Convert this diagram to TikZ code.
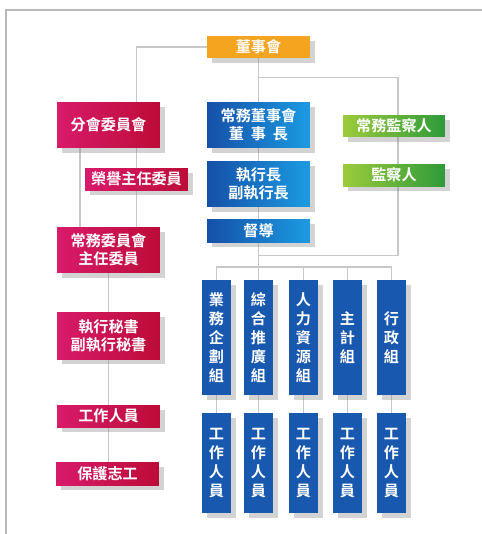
\documentclass[tikz,border=0pt]{standalone}
\usepackage{fontspec}
\newfontfamily\cjk{Noto Sans CJK TC}[BoldFont={Noto Sans CJK TC Bold}]
\usetikzlibrary{calc,shadows,backgrounds}
\definecolor{boardorange}{HTML}{F5A41F}
\definecolor{redleft}{HTML}{D81A6A}
\definecolor{redright}{HTML}{BC0C38}
\definecolor{blueleft}{HTML}{1550A8}
\definecolor{blueright}{HTML}{1C9BE2}
\definecolor{groupblue}{HTML}{1858AE}
\definecolor{greenleft}{HTML}{9CCB3B}
\definecolor{greenright}{HTML}{2E9A3A}
\definecolor{linegray}{HTML}{C8C8C8}

\begin{document}
\begin{tikzpicture}[x=0.02cm,y=-0.02cm,
    box/.style={text=white,font=\cjk\bfseries\fontsize{8.6}{10.2}\selectfont,align=center,inner sep=0pt,
      drop shadow={shadow xshift=3pt,shadow yshift=-3pt,opacity=.35}},
    wide/.style={box,minimum width=2.06cm,minimum height=0.44cm},
    tall/.style={wide,minimum height=0.92cm},
    redbox/.style={left color=redleft,right color=redright},
    bluebox/.style={left color=blueleft,right color=blueright},
    greenbox/.style={left color=greenleft,right color=greenright},
    group/.style={box,fill=groupblue,minimum width=0.58cm,font=\cjk\bfseries\fontsize{8.6}{10.8}\selectfont},
    link/.style={draw=linegray,line width=0.6pt}]
\useasboundingbox (0,0) rectangle (482,534);
% frame
\draw[linegray!80!gray,line width=0.6pt] (6,534) -- (6,10) -- (482,10);

% top
\node[wide,fill=boardorange] (dsh) at (258.5,47) {董事會};

% left column
\node[tall,redbox] (fhw) at (108.5,125) {分會委員會};
\node[wide,redbox] (rymw) at (136.5,179) {榮譽主任委員};
\node[tall,redbox] (cwwy) at (108.5,250) {常務委員會\\主任委員};
\node[tall,redbox,minimum height=0.94cm] (zxms) at (108.5,335.5) {執行秘書\\副執行秘書};
\node[wide,redbox] (gzry) at (108.5,416) {工作人員};
\node[wide,redbox,minimum height=0.46cm] (bhzg) at (107.5,473.5) {保護志工};

% middle column
\node[tall,bluebox] (cwds) at (258.5,125) {常務董事會\\董\ \ 事\ \ 長};
\node[tall,bluebox] (zxz) at (258.5,184) {執行長\\副執行長};
\node[wide,bluebox,minimum height=0.46cm] (dd) at (258.5,230.5) {督導};

% supervisors
\node[wide,greenbox,minimum width=2.04cm] (cwjc) at (394,126) {常務監察人};
\node[wide,greenbox,minimum width=2.04cm] (jcr) at (394,175) {監察人};

% groups
\foreach \i/\x/\name in {1/216.5/業\\務\\企\\劃\\組,2/258.5/綜\\合\\推\\廣\\組,
    3/303.5/人\\力\\資\\源\\組,4/347.5/主\\計\\組,5/391.5/行\\政\\組} {
  \node[group,minimum height=2.3cm] (g\i) at (\x,337.5) {\name};
  \node[group,minimum height=2.0cm] (w\i) at (\x,463) {工\\作\\人\\員};
}

\coordinate (bus) at (0,267);

\begin{pgfonlayer}{background}
  \draw[link] (dsh.west) -| (fhw.north -| rymw);
  \draw[link] (fhw.south -| rymw) -- (cwwy.north -| rymw);
  \draw[link] ($(fhw.south)+(-28.5,0)$) -- ($(cwwy.north)+(-28.5,0)$);
  \draw[link] (cwwy.south) -- (cwwy.south |- bhzg.north);
  \draw[link] (dsh.south) -- (dsh.south |- bus);
  \draw[link] ($(dsh.south)+(0,19)$) -| ($(cwjc)+(4,0)$) -- ($(jcr)+(4,0)$) |- ($(dd.south)+(0,13)$);
  \draw[link] (g1.north) |- (g1.north |- bus) -| (g5.north);
  \foreach \i in {2,3,4}
    \draw[link] (g\i.north) -- (g\i.north |- bus);
  \foreach \i in {1,...,5}
    \draw[link] (g\i.south) -- (w\i.north);
\end{pgfonlayer}
\end{tikzpicture}
\end{document}
